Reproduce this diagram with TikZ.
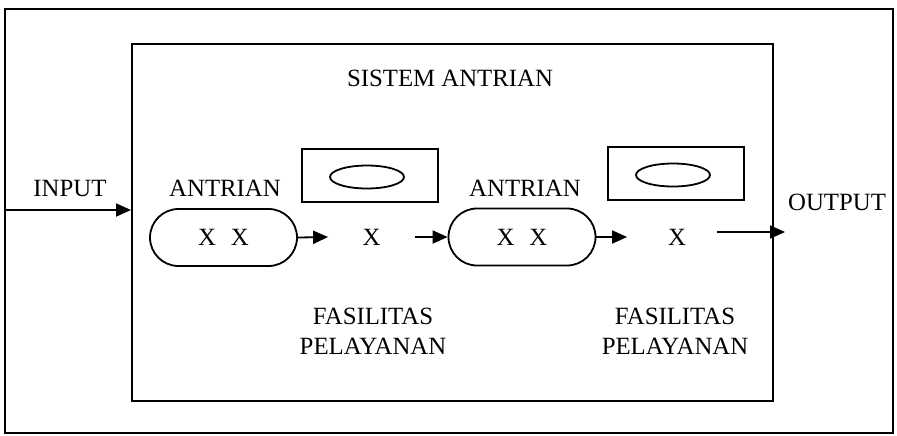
\documentclass[tikz,border=0pt]{standalone}
\usepackage{fontspec}
\setmainfont{Liberation Serif}
\usetikzlibrary{arrows.meta,shapes.misc,shapes.geometric}
\begin{document}
\begin{tikzpicture}[x=0.5pt,y=-0.5pt,
  line width=0.9pt,
  lbl/.style={font=\fontsize{12.4}{15}\selectfont, inner sep=0pt, align=center},
  queue/.style={draw, rounded rectangle, minimum width=73.5pt, minimum height=28.5pt, inner sep=0pt, font=\fontsize{12.4}{14}\selectfont},
  server/.style={draw, rectangle, minimum width=68pt, minimum height=26.5pt, inner sep=0pt},
  disc/.style={draw, ellipse, minimum width=37pt, minimum height=11.5pt, inner sep=0pt},
  flow/.style={-{Triangle[length=7.5pt,width=6.5pt]}}
]
\useasboundingbox (0,0) rectangle (897,435);

% frames
\draw (5,9) rectangle (893,433);
\node[draw, rectangle, minimum width=320.5pt, minimum height=178.5pt, inner sep=0pt, line width=1pt] (sys) at (452.5,222.5) {};
\node[lbl] at (450,78) {SISTEM ANTRIAN};

% input
\coordinate (src) at (5,210);
\node[lbl] at (70,188) {INPUT};
\draw[flow] (src) -- (sys.west |- src);

% first stage
\node[lbl] at (225,188) {ANTRIAN};
\node[queue] (q1) at (223.5,237.5) {X\hspace{0.6em}X};
\node[server] (f1) at (370,175.5) {};
\node[disc] (e1) at (367,177) {};
\node[lbl, minimum width=42.5pt] (s1) at (371.5,237) {X};
\node[lbl] at (373,331) {FASILITAS\\PELAYANAN};
\draw[flow] (q1.east) -- (s1.west);

% second stage
\node[lbl] at (525,188) {ANTRIAN};
\node[queue] (q2) at (522,237) {X\hspace{0.6em}X};
\draw[flow] (s1.east) -- (q2.west);
\node[server] (f2) at (676,173.5) {};
\node[disc] (e2) at (673,175) {};
\node[lbl, minimum width=24.5pt] (s2) at (652.5,237) {};
\node[lbl] at (677,237) {X};
\node[lbl] at (675,331) {FASILITAS\\PELAYANAN};
\draw[flow] (q2.east) -- (s2.west |- q2.east);

% output
\coordinate (outa) at (717,232);
\coordinate (outb) at (785,232);
\draw[flow] (outa) -- (outb);
\node[lbl] at (837,202) {OUTPUT};
\end{tikzpicture}
\end{document}
